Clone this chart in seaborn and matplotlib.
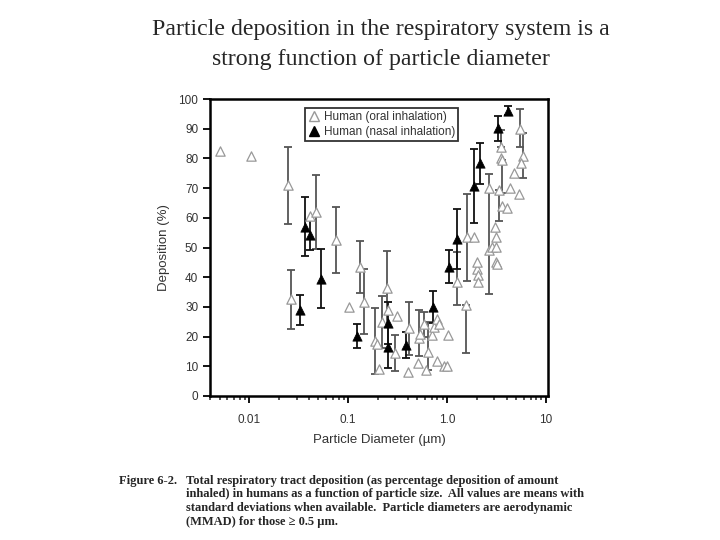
import numpy as np
import pandas as pd
import matplotlib
matplotlib.use("Agg")
import matplotlib.pyplot as plt
import seaborn as sns
from matplotlib.ticker import FixedLocator, NullFormatter, LogLocator
from matplotlib.lines import Line2D

# ---------------- data ----------------
oral_x = [0.0051, 0.0105, 0.0248, 0.0266, 0.0415, 0.0477, 0.0761, 0.101, 0.133, 0.144,
          0.185, 0.195, 0.204, 0.22, 0.248, 0.252, 0.313, 0.30, 0.40, 0.411,
          0.507, 0.519, 0.53, 0.583, 0.607, 0.647, 0.71, 0.736, 0.785, 0.828,
          0.785, 0.93, 1.007, 1.02, 1.25, 1.54, 1.61, 1.87, 2.03, 2.07,
          2.07, 2.02, 2.66, 2.66, 2.85, 3.03, 3.1, 3.1, 3.1, 3.2,
          3.63, 4.08, 3.36, 4.31, 3.55, 3.5, 3.63, 4.76, 5.35, 5.48,
          5.93, 5.57]
oral_y = [82.5, 80.8, 71.0, 32.5, 60.5, 62.0, 52.5, 30.0, 43.5, 31.8,
          18.5, 17.5, 9.0, 25.0, 36.3, 29.0, 27.0, 14.4, 8.2, 22.8,
          11.0, 19.4, 21.0, 24.1, 8.8, 14.9, 20.5, 23.3, 25.8, 24.1,
          11.9, 10.1, 10.1, 20.5, 38.5, 30.6, 53.6, 53.6, 42.6, 40.7,
          38.5, 45.2, 70.2, 49.2, 50.3, 57.0, 53.6, 50.3, 45.2, 44.4,
          63.9, 63.2, 69.4, 69.9, 83.9, 80.0, 79.5, 75.0, 67.9, 89.8,
          80.9, 78.3]
oral_lo = [0, 0, 13, 10, 0, 12.5, 11, 0, 8.7, 11,
           11, 0, 0, 8.7, 12.5, 0, 0, 6, 0, 9,
           0, 6, 0, 4.3, 0, 6, 0, 0, 0, 0,
           0, 0, 0, 0, 8, 16, 15, 0, 0, 0,
           0, 0, 36, 0, 0, 0, 0, 0, 0, 0,
           0, 0, 10.5, 0, 0, 0, 11, 0, 0, 6,
           7.5, 0]
oral_hi = [0, 0, 13, 10, 0, 12.5, 11, 0, 8.7, 11,
           11, 0, 0, 8.7, 12.5, 0, 0, 6, 0, 9,
           0, 9.6, 0, 4.3, 0, 10, 0, 0, 0, 0,
           0, 0, 0, 0, 10, 0, 14.3, 0, 0, 0,
           0, 0, 4.4, 0, 0, 0, 0, 0, 0, 0,
           0, 0, 0, 0, 5.7, 0, 0, 0, 0, 7,
           7.5, 0]

nasal_x = [0.0329, 0.0369, 0.0408, 0.0532, 0.123, 0.252, 0.252, 0.38, 0.726, 1.045,
           1.25, 1.87, 2.16, 3.31, 4.18]
nasal_y = [29.0, 57.0, 54.2, 39.5, 20.2, 24.5, 16.4, 17.2, 29.9, 43.5,
           52.9, 70.8, 78.3, 90.1, 96.0]
nasal_err = [5, 10, 5, 10, 4, 7, 7, 4.5, 5.3, 5.5,
             10, 12.5, 7, 4.3, 1.5]

x_ticks = [0.01, 0.1, 1.0, 10]
x_tick_labels = ["0.01", "0.1", "1.0", "10"]
y_ticks = [0, 10, 20, 30, 40, 50, 60, 70, 80, 90, 100]

title_lines = ["Particle deposition in the respiratory system is a",
               "strong function of particle diameter"]
caption_lines = [
    "Total respiratory tract deposition (as percentage deposition of amount",
    "inhaled) in humans as a function of particle size.  All values are means with",
    "standard deviations when available.  Particle diameters are aerodynamic",
    "(MMAD) for those \u2265 0.5 \u00b5m.",
]

# ---------------- figure ----------------
sns.set_theme(style="ticks")
plt.rcParams["font.family"] = ["Liberation Sans", "DejaVu Sans"]

fig = plt.figure(figsize=(7.2, 5.4), dpi=100)
fig.patch.set_facecolor("white")
ax = fig.add_axes([210 / 720, 1 - 396 / 540, 338 / 720, 297 / 540])
ax.set_facecolor("white")

oral = pd.DataFrame({"x": oral_x, "y": oral_y, "lo": oral_lo, "hi": oral_hi})
nasal = pd.DataFrame({"x": nasal_x, "y": nasal_y, "err": nasal_err})

oe = oral[(oral.lo > 0) | (oral.hi > 0)]
ax.errorbar(oe.x, oe.y, yerr=[oe.lo, oe.hi], fmt="none", ecolor="#555555",
            elinewidth=1.3, capsize=2.8, capthick=1.3, zorder=2)
ax.errorbar(nasal.x, nasal.y, yerr=nasal.err, fmt="none", ecolor="#111111",
            elinewidth=1.3, capsize=2.8, capthick=1.3, zorder=2)

sns.scatterplot(data=oral, x="x", y="y", ax=ax, marker="^", s=45,
                facecolor="white", edgecolor="#999999", linewidth=0.9, zorder=3)
sns.scatterplot(data=nasal, x="x", y="y", ax=ax, marker="^", s=45,
                color="black", edgecolor="black", linewidth=0.5, zorder=4)

ax.set_xscale("log")
ax.set_xlim(0.004, 10.5)
ax.set_ylim(0, 100)
ax.xaxis.set_major_locator(FixedLocator(x_ticks))
ax.set_xticklabels(x_tick_labels)
ax.xaxis.set_minor_locator(LogLocator(base=10, subs=np.arange(2, 10)))
ax.xaxis.set_minor_formatter(NullFormatter())
ax.set_yticks(y_ticks)

for s in ax.spines.values():
    s.set_linewidth(1.8)
    s.set_color("black")
ax.tick_params(axis="both", which="major", direction="out", length=5, width=1.3,
               labelsize=8.5, labelcolor="#333333", color="black")
ax.tick_params(axis="x", which="minor", direction="out", length=3, width=1.1)
ax.tick_params(axis="x", which="major", pad=8)

ax.set_xlabel("Particle Diameter (\u00b5m)", fontsize=9.5, color="#333333", labelpad=6)
ax.set_ylabel("Deposition (%)", fontsize=9.5, color="#333333", labelpad=6)

handles = [
    Line2D([], [], marker="^", linestyle="none", markersize=6.5,
           markerfacecolor="white", markeredgecolor="#999999"),
    Line2D([], [], marker="^", linestyle="none", markersize=6.5,
           markerfacecolor="black", markeredgecolor="black"),
]
leg = ax.legend(handles, ["Human (oral inhalation)", "Human (nasal inhalation)"],
                loc="upper left", bbox_to_anchor=(0.28, 0.97), frameon=True,
                fancybox=False, fontsize=8.5, handletextpad=0.3, borderpad=0.3,
                labelspacing=0.2, handlelength=1.0, borderaxespad=0)
leg.get_frame().set_edgecolor("black")
leg.get_frame().set_linewidth(1.3)
for t in leg.get_texts():
    t.set_color("#333333")

serif = ["Liberation Serif", "DejaVu Serif"]
for i, line in enumerate(title_lines):
    fig.text(381 / 720, 1 - (30 + 30 * i) / 540, line, ha="center", va="center",
             fontsize=17.2, family=serif)

fig.text(119 / 720, 1 - 481 / 540, "Figure 6-2.", ha="left", va="center",
         fontsize=9, family=serif, fontweight="bold")
for i, line in enumerate(caption_lines):
    fig.text(186 / 720, 1 - (481 + 13.5 * i) / 540, line, ha="left", va="center",
             fontsize=9, family=serif, fontweight="bold")

fig.savefig("out.png", dpi=100, facecolor="white")
